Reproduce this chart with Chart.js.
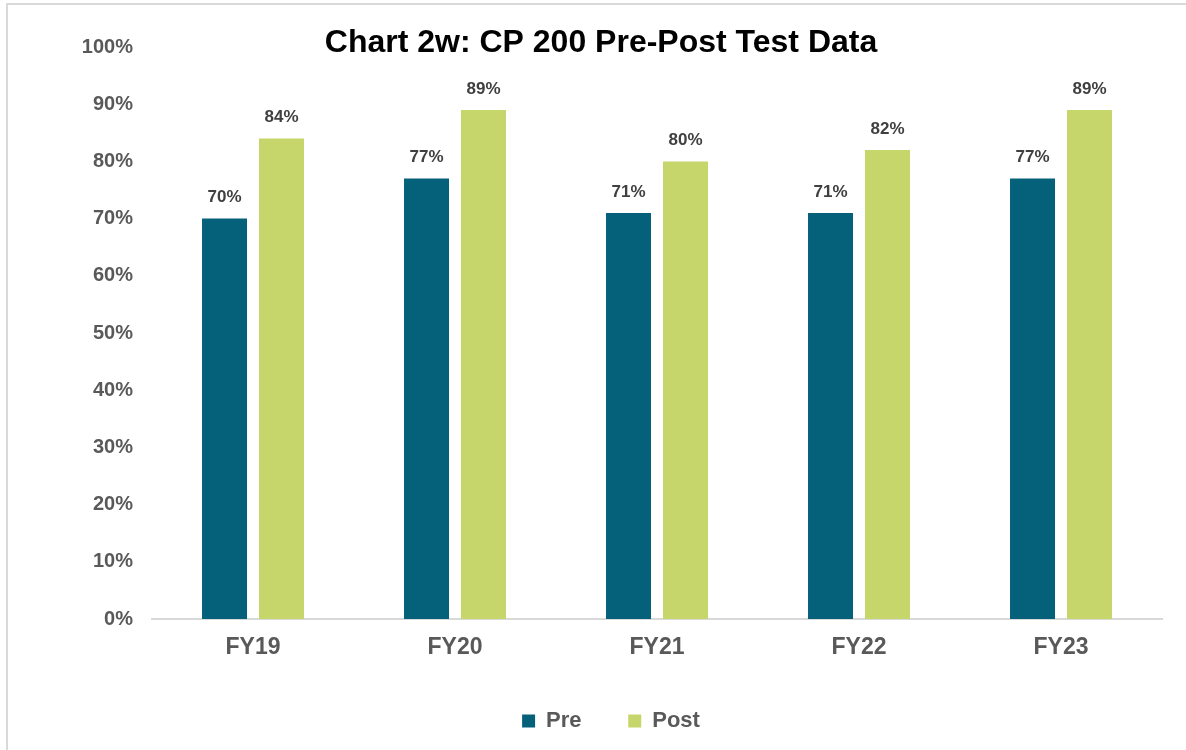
<!DOCTYPE html>
<html>
<head>
<meta charset="utf-8">
<script src="https://cdn.jsdelivr.net/npm/chart.js@4"></script>
<style>
  html, body { margin: 0; padding: 0; background: #fff; }
  #wrap { position: relative; width: 1186px; height: 750px; overflow: hidden; }
  #frame { position: absolute; left: 6px; top: 3px; width: 1200px; height: 800px;
           border-left: 2px solid #d9d9d9; border-top: 2px solid #d9d9d9; }
  canvas { position: absolute; left: 0; top: 0; }
</style>
</head>
<body>
<div id="wrap">
  <div id="frame"></div>
  <canvas id="chart" width="1186" height="750"></canvas>
</div>
<script>
const categories = ["FY19", "FY20", "FY21", "FY22", "FY23"];
const preValues = [70, 77, 71, 71, 77];
const postValues = [84, 89, 80, 82, 89];
const chartTitle = "Chart 2w: CP 200 Pre-Post Test Data";

const FONT = "'Liberation Sans', Arial, sans-serif";

// value labels above the bars
const barLabels = {
  id: "barLabels",
  afterDatasetsDraw(chart) {
    const ctx = chart.ctx;
    ctx.save();
    ctx.font = "bold 17px " + FONT;
    ctx.fillStyle = "#404040";
    ctx.textAlign = "center";
    ctx.textBaseline = "middle";
    chart.data.datasets.forEach((ds, i) => {
      chart.getDatasetMeta(i).data.forEach((bar, j) => {
        ctx.fillText(ds.data[j] + "%", bar.x, bar.y - 21);
      });
    });
    ctx.restore();
  },
};

// title sits over the top of the plot, like the original
const overTitle = {
  id: "overTitle",
  afterDraw(chart) {
    const ctx = chart.ctx;
    ctx.save();
    ctx.font = "bold 32px " + FONT;
    ctx.fillStyle = "#000";
    ctx.textAlign = "center";
    ctx.textBaseline = "middle";
    ctx.fillText(chartTitle, chart.width / 2 + 8, 43);
    ctx.restore();
  },
};

new Chart(document.getElementById("chart"), {
  type: "bar",
  data: {
    labels: categories,
    datasets: [
      {
        label: "Pre",
        data: preValues,
        backgroundColor: "#05617A",
        categoryPercentage: 0.564,
        barPercentage: 0.79,
      },
      {
        label: "Post",
        data: postValues,
        backgroundColor: "#C6D66B",
        categoryPercentage: 0.564,
        barPercentage: 0.79,
      },
    ],
  },
  options: {
    responsive: false,
    animation: false,
    layout: { padding: { top: 47, right: 24, bottom: 8, left: 60 } },
    scales: {
      y: {
        min: 0,
        max: 100,
        ticks: {
          stepSize: 10,
          padding: 19,
          color: "#595959",
          font: { family: FONT, size: 20, weight: "bold" },
          callback: (v) => v + "%",
        },
        grid: { display: false, drawTicks: false },
        border: { display: false },
        afterFit(scale) { scale.width = 92; },
      },
      x: {
        ticks: {
          padding: 15,
          color: "#595959",
          font: { family: FONT, size: 23, weight: "bold" },
        },
        grid: { display: false, drawTicks: false },
        border: { display: true, color: "#d9d9d9", width: 2 },
        afterFit(scale) { scale.height = 81; },
      },
    },
    plugins: {
      legend: {
        position: "bottom",
        labels: {
          boxWidth: 13,
          boxHeight: 13,
          padding: 10,
          color: "#595959",
          font: { family: FONT, size: 22, weight: "bold" },
          generateLabels(chart) {
            const items = Chart.defaults.plugins.legend.labels.generateLabels(chart);
            // widen the gap between the two entries without extra vertical padding
            items[0].text = items[0].text + "      ";
            return items;
          },
        },
      },
      title: { display: false },
      tooltip: { enabled: false },
    },
  },
  plugins: [barLabels, overTitle],
});
</script>
</body>
</html>
